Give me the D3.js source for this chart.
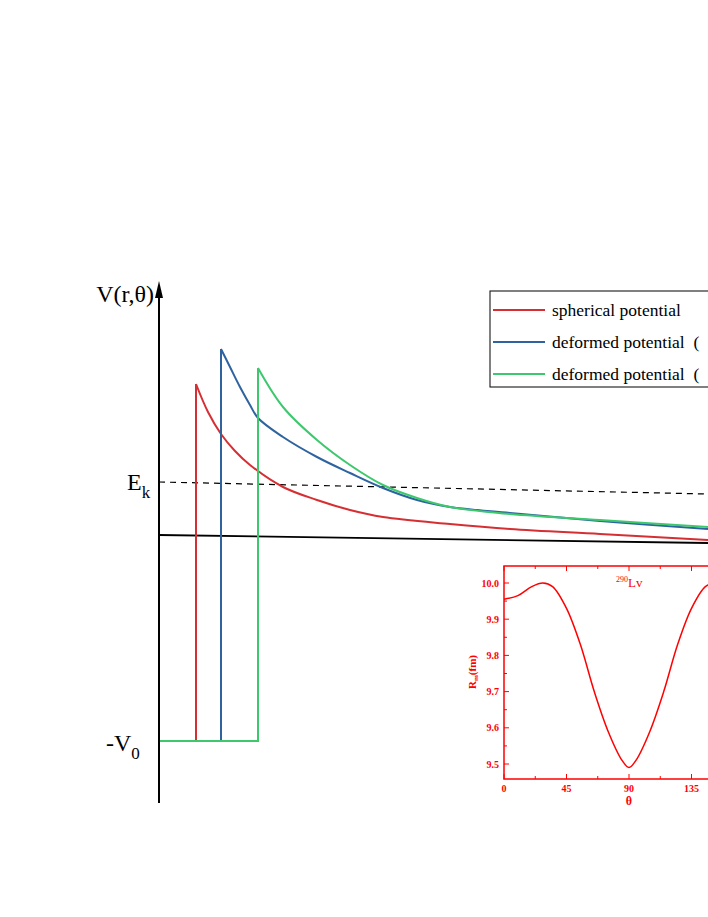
<!DOCTYPE html><html><head><meta charset="utf-8"><script src="https://cdn.jsdelivr.net/npm/d3@7"></script>
<style>body{margin:0;background:#fff}</style></head><body><svg id="c" width="708" height="917"></svg>
<script>
// main chart values (r offset from axis, V in picture units growing downward)
const redPts=[[37,384],[49,412],[62,434],[76,451],[91,465],[124,487],[158,500],[191,510],[224,517],[291,524],[351,529],[441,534],[549,540]];
const bluePts=[[62,349],[71,367],[81,387],[91,405],[99,418],[124,437],[158,457],[191,473],[224,488],[258,500],[291,507],[351,513],[441,521],[549,529]];
const greenPts=[[99,368],[124,407],[158,440],[191,465],[224,485],[258,498],[291,507],[351,514],[441,520],[549,527]];
const wellBottom=741, baseline=[535,543], ekLine=[482,494];
const legendLabels=["spherical potential","deformed potential  (","deformed potential  ("];
const colors=["#d62f33","#2f63a0","#3ec86e"];
const thetaVals=[0,10,20,28,35,45,55,65,75,85,90,95,105,115,125,135,145,152,160,170,180];
const rmVals=[9.955,9.965,9.99,10.0,9.99,9.93,9.83,9.70,9.59,9.51,9.49,9.51,9.59,9.70,9.83,9.93,9.99,10.0,9.99,9.965,9.955];
const xTicks=[0,45,90,135], yTicks=[9.5,9.6,9.7,9.8,9.9,10.0];

const svg=d3.select("#c");
const x=d3.scaleLinear().domain([0,549]).range([159,708]);
const y=d3.scaleLinear().domain([0,917]).range([0,917]);
const serif="'Liberation Serif','DejaVu Serif',serif";
svg.append("line").attr("x1",x(0)).attr("x2",x(549)).attr("y1",y(baseline[0])).attr("y2",y(baseline[1])).attr("stroke","#000").attr("stroke-width",1.8);
svg.append("line").attr("x1",x(0)).attr("x2",x(549)).attr("y1",y(ekLine[0])).attr("y2",y(ekLine[1])).attr("stroke","#000").attr("stroke-width",1.2).attr("stroke-dasharray","6,5");
const line=d3.line().x(d=>x(d[0])).y(d=>y(d[1])).curve(d3.curveCatmullRom.alpha(0.5));
[[redPts,0],[bluePts,1],[greenPts,2]].forEach(([p,i])=>{
  const x0=p[0][0];
  svg.append("path").attr("d",`M${x(0)},${y(wellBottom)}L${x(x0)},${y(wellBottom)}L${x(x0)},${y(p[0][1])}`).attr("fill","none").attr("stroke",colors[i]).attr("stroke-width",2);
  svg.append("path").attr("d",line(p)).attr("fill","none").attr("stroke",colors[i]).attr("stroke-width",2);
});
svg.append("line").attr("x1",159).attr("x2",159).attr("y1",290).attr("y2",803).attr("stroke","#000").attr("stroke-width",2);
svg.append("path").attr("d","M159,281L155,298L163,298Z").attr("fill","#000");
svg.append("text").attr("x",154).attr("y",302).attr("text-anchor","end").attr("font-family",serif).attr("font-size",24).text("V(r,θ)");
const ek=svg.append("text").attr("x",127).attr("y",490).attr("font-family",serif).attr("font-size",24).text("E");
ek.append("tspan").attr("font-size",17).attr("dy",8).text("k");
const v0=svg.append("text").attr("x",106).attr("y",751).attr("font-family",serif).attr("font-size",24).text("-V");
v0.append("tspan").attr("font-size",17).attr("dy",8).text("0");
svg.append("rect").attr("x",490).attr("y",291).attr("width",230).attr("height",96).attr("fill","#fff").attr("stroke","#000").attr("stroke-width",1);
legendLabels.forEach((t,i)=>{const yy=310+i*32;
  svg.append("line").attr("x1",493).attr("x2",545).attr("y1",yy).attr("y2",yy).attr("stroke",colors[i]).attr("stroke-width",2);
  svg.append("text").attr("x",552).attr("y",yy+6).attr("font-family",serif).attr("font-size",17.5).attr("xml:space","preserve").style("white-space","pre").text(t);});
const ix=d3.scaleLinear().domain([0,180]).range([504,754]);
const iy=d3.scaleLinear().domain([9.5,10.0]).range([764,583]);
const R="#ff0000";
const g=svg.append("g");
g.append("rect").attr("x",504).attr("y",566).attr("width",250).attr("height",213).attr("fill","#fff").attr("stroke",R).attr("stroke-width",1.5);
g.append("path").attr("d",d3.line().x((d,i)=>ix(thetaVals[i])).y(d=>iy(d)).curve(d3.curveCatmullRom)(rmVals)).attr("fill","none").attr("stroke",R).attr("stroke-width",1.5);
d3.range(0,181,22.5).forEach(t=>{const L=t%45===0?5:3;
  g.append("line").attr("x1",ix(t)).attr("x2",ix(t)).attr("y1",779).attr("y2",779-L).attr("stroke",R);
  g.append("line").attr("x1",ix(t)).attr("x2",ix(t)).attr("y1",566).attr("y2",566+L).attr("stroke",R);});
d3.range(9.5,10.01,0.05).forEach(v=>{const L=Math.round(v*100)%10===0?5:3;
  g.append("line").attr("x1",504).attr("x2",504+L).attr("y1",iy(v)).attr("y2",iy(v)).attr("stroke",R);});
xTicks.forEach(t=>g.append("text").attr("x",ix(t)).attr("y",792).attr("text-anchor","middle").attr("fill",R).attr("font-family",serif).attr("font-weight","bold").attr("font-size",10).text(t));
yTicks.forEach(v=>g.append("text").attr("x",499).attr("y",iy(v)+3.5).attr("text-anchor","end").attr("fill",R).attr("font-family",serif).attr("font-weight","bold").attr("font-size",10).text(v.toFixed(1)));
g.append("text").attr("x",629).attr("y",805).attr("text-anchor","middle").attr("fill",R).attr("font-family",serif).attr("font-weight","bold").attr("font-size",12).text("θ");
const yl=g.append("text").attr("transform","translate(476,672) rotate(-90)").attr("text-anchor","middle").attr("fill",R).attr("font-family",serif).attr("font-weight","bold").attr("font-size",11).text("R");
yl.append("tspan").attr("font-size",7).attr("dy",2).text("m");yl.append("tspan").attr("dy",-2).text("(fm)");
const lv=g.append("text").attr("x",616).attr("y",587).attr("fill",R).attr("font-family",serif).attr("font-size",13);
lv.append("tspan").attr("font-size",8).attr("dy",-5).text("290");lv.append("tspan").attr("dy",5).text("Lv");
</script></body></html>
